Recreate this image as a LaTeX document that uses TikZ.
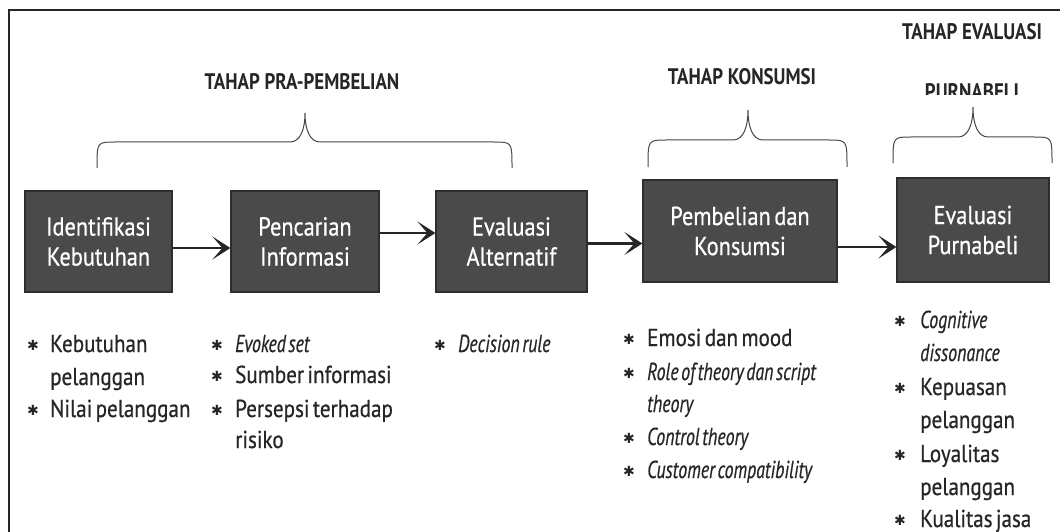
\documentclass[tikz,border=0pt]{standalone}
\usepackage{fontspec}
\setmainfont{PT Sans}[FakeStretch=0.86, FakeBold=0.6, WordSpace=0.6]
\newfontfamily\itfont{PT Sans}[FakeStretch=0.73, FakeBold=0.5, WordSpace=0.55]
\newfontfamily\ttlfont{PT Sans}[FakeStretch=0.84]
\newfontfamily\symfont{DejaVu Sans}
\usetikzlibrary{arrows.meta}
\definecolor{ink}{HTML}{262626}
\definecolor{boxfill}{HTML}{4A4A4A}
\definecolor{boxedge}{HTML}{2E2E2E}
\begin{document}
\begin{tikzpicture}[x=1pt,y=-1pt,
  box/.style={fill=boxfill, draw=boxedge, line width=1.2pt, text=white,
    font=\fontsize{26}{30}\selectfont, align=center, inner sep=0pt},
  ttl/.style={font=\ttlfont\bfseries\fontsize{22.5}{26}\selectfont, text=ink, anchor=base, inner sep=0pt},
  item/.style={anchor=base west, inner sep=0pt, font=\fontsize{24.5}{28}\selectfont, text=ink},
  itemit/.style={item, font=\itfont\itshape\fontsize{24.5}{28}\selectfont},
  bul/.style={inner sep=0pt, font=\symfont\fontsize{14}{14}\selectfont, text=ink},
  bracket/.style={draw=ink!85, line width=1pt},
  flow/.style={draw=ink, line width=2.4pt, -{Stealth[length=18pt,width=23pt,inset=10pt]}}
]
\useasboundingbox (0,0) rectangle (1060,532);
\fill[white] (0,0) rectangle (1060,532);
% frame
\draw[ink, line width=1.8pt] (9,532) -- (9,10) -- (1060,10);

% boxes
\node[box, minimum width=147pt, minimum height=101pt] (b1) at (98.5,241.5) {Identifikasi\\Kebutuhan};
\node[box, minimum width=148pt, minimum height=101pt] (b2) at (305,241.5) {Pencarian\\Informasi};
\node[box, minimum width=151pt, minimum height=101pt] (b3) at (511.5,241.5) {Evaluasi\\Alternatif};
\node[box, minimum width=194pt, minimum height=102pt] (b4) at (740,231) {Pembelian dan\\Konsumsi};
\node[box, minimum width=152pt, minimum height=104pt] (b5) at (973,230) {Evaluasi\\Purnabeli};

% arrows
\draw[flow] ([yshift=-6.5pt]b1.east) -- ([yshift=-6.5pt]b1.east -| b2.west);
\draw[flow] ([yshift=8.5pt]b2.east) -- ([yshift=8.5pt]b2.east -| b3.west);
\draw[flow] ([yshift=-2pt]b3.east) -- ([yshift=-2pt]b3.east -| b4.west);
\draw[flow] ([yshift=-16pt]b4.east) -- ([yshift=-16pt]b4.east -| b5.west);

% braces
\draw[bracket] (97,168) .. controls (97,142) .. (115,142) -- (290,142)
  .. controls (300,142) and (305,130) .. (305,113)
  .. controls (305,130) and (310,142) .. (320,142) -- (494,142)
  .. controls (512,142) .. (512,168);
\draw[bracket] (648,167) .. controls (648,140) .. (666,140) -- (733,140)
  .. controls (743,140) and (748,128) .. (748,110)
  .. controls (748,128) and (753,140) .. (763,140) -- (829,140)
  .. controls (847,140) .. (847,167);
\draw[bracket] (893,163) .. controls (893,137) .. (911,137) -- (958,137)
  .. controls (968,137) and (973,125) .. (973,107)
  .. controls (973,125) and (978,137) .. (988,137) -- (1034,137)
  .. controls (1052,137) .. (1052,163);

% titles
\node[ttl] (t1) at (302,90) {TAHAP PRA-PEMBELIAN};
\node[ttl] (t2) at (742,85) {TAHAP KONSUMSI};
\node[ttl] (t3) at (972,40) {TAHAP EVALUASI};
\begin{scope}
\clip (900,78) rectangle (1050,95);
\node[ttl] (t4) at (972,100) {PURNABELI};
\end{scope}

% column 1
\node[bul] (p1) at (33,345) {✱};
\node[item] (i1) at (50,352) {Kebutuhan};
\node[item] (i2) at (50,385) {pelanggan};
\node[bul] (p2) at (33,410) {✱};
\node[item] (i3) at (50,417) {Nilai pelanggan};

% column 2
\node[bul] (q1) at (217,345) {✱};
\node[itemit] (j1) at (235,352) {Evoked set};
\node[bul] (q2) at (217,376) {✱};
\node[item] (j2) at (235,383) {Sumber informasi};
\node[bul] (q3) at (217,410) {✱};
\node[item] (j3) at (235,417) {Persepsi terhadap};
\node[item] (j4) at (235,448) {risiko};

% column 3
\node[bul] (r1) at (440,345) {✱};
\node[itemit] (k1) at (458,352) {Decision rule};

% column 4
\node[bul] (s1) at (629,339) {✱};
\node[item] (l1) at (647,346) {Emosi dan mood};
\node[bul] (s2) at (629,373) {✱};
\node[itemit] (l2) at (647,380) {Role of theory dan script};
\node[itemit] (l3) at (647,412) {theory};
\node[bul] (s3) at (629,438) {✱};
\node[itemit] (l4) at (647,445) {Control theory};
\node[bul] (s4) at (629,471) {✱};
\node[itemit] (l5) at (647,478) {Customer compatibility};

% column 5
\node[bul] (u1) at (900,321) {✱};
\node[itemit] (m1) at (920,328) {Cognitive};
\node[itemit] (m2) at (920,361) {dissonance};
\node[bul] (u2) at (900,388) {✱};
\node[item] (m3) at (920,395) {Kepuasan};
\node[item] (m4) at (920,428) {pelanggan};
\node[bul] (u3) at (900,455) {✱};
\node[item] (m5) at (920,462) {Loyalitas};
\node[item] (m6) at (920,495) {pelanggan};
\node[bul] (u4) at (900,520) {✱};
\node[item] (m7) at (920,527) {Kualitas jasa};
\end{tikzpicture}
\end{document}
